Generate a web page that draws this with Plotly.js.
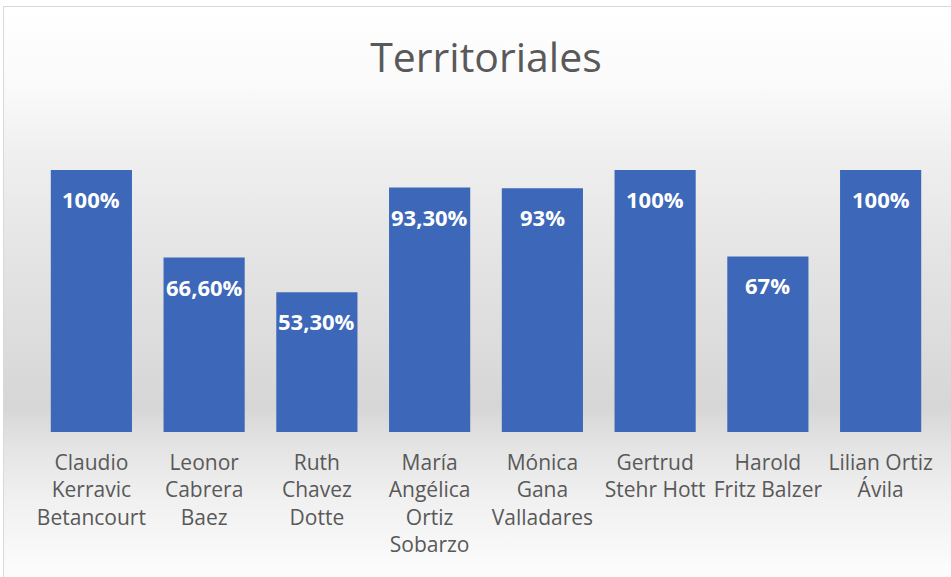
<!DOCTYPE html>
<html>
<head>
<meta charset="utf-8">
<script src="https://cdn.plot.ly/plotly-3.0.1.min.js"></script>
<style>
  html, body { margin:0; padding:0; width:951px; height:577px; overflow:hidden; background:#fff; }
  #bg { position:absolute; left:3px; top:6px; width:960px; height:580px; border:1px solid #d9d9d9; box-sizing:border-box;
        background: linear-gradient(to bottom, #ffffff 0px, #fafafa 80px, #efefef 150px, #e4e4e4 250px, #dcdcdc 340px, #d6d6d6 400px, #e4e4e4 440px, #f0f0f0 490px, #fbfbfb 560px); }
  #chart { position:absolute; left:0; top:0; width:951px; height:577px; }
</style>
</head>
<body>
<div id="bg"></div>
<div id="chart"></div>
<script>
const categories = [
  "Claudio<br>Kerravic<br>Betancourt",
  "Leonor<br>Cabrera<br>Baez",
  "Ruth<br>Chavez<br>Dotte",
  "María<br>Angélica<br>Ortiz<br>Sobarzo",
  "Mónica<br>Gana<br>Valladares",
  "Gertrud<br>Stehr Hott",
  "Harold<br>Fritz Balzer",
  "Lilian Ortiz<br>Ávila"
];
const values = [1.0, 0.666, 0.533, 0.933, 0.93, 1.0, 0.67, 1.0];
const valueLabels = ["100%", "66,60%", "53,30%", "93,30%", "93%", "100%", "67%", "100%"];

const trace = {
  type: "bar",
  x: categories,
  y: values,
  marker: { color: "#3d68b9" },
  hoverinfo: "skip"
};

const annotations = categories.map((c, i) => ({
  x: c, y: values[i], xref: "x", yref: "y",
  text: "<b>" + valueLabels[i] + "</b>",
  showarrow: false, yanchor: "middle", yshift: -29,
  font: { family: "Open Sans, sans-serif", size: 22, color: "#ffffff" }
}));

const layout = {
  width: 951, height: 577,
  margin: { l: 35, r: 14, t: 170, b: 145 },
  paper_bgcolor: "rgba(0,0,0,0)",
  plot_bgcolor: "rgba(0,0,0,0)",
  bargap: 0.28,
  showlegend: false,
  title: {
    text: "Territoriales",
    font: { family: "Open Sans, sans-serif", size: 41, color: "#595959" },
    x: 0.5, xanchor: "center", xref: "paper",
    y: 1 - 58/577, yanchor: "middle", yref: "container"
  },
  xaxis: {
    showline: false, showgrid: false, zeroline: false, ticks: "",
    tickfont: { family: "Open Sans, sans-serif", size: 21, color: "#595959" },
    ticklabelstandoff: 16, fixedrange: true
  },
  yaxis: {
    range: [0, 1], showticklabels: false, showgrid: false, zeroline: false, showline: false, ticks: "", fixedrange: true
  },
  annotations: annotations
};

Plotly.newPlot("chart", [trace], layout, { displayModeBar: false, staticPlot: true });
</script>
</body>
</html>
